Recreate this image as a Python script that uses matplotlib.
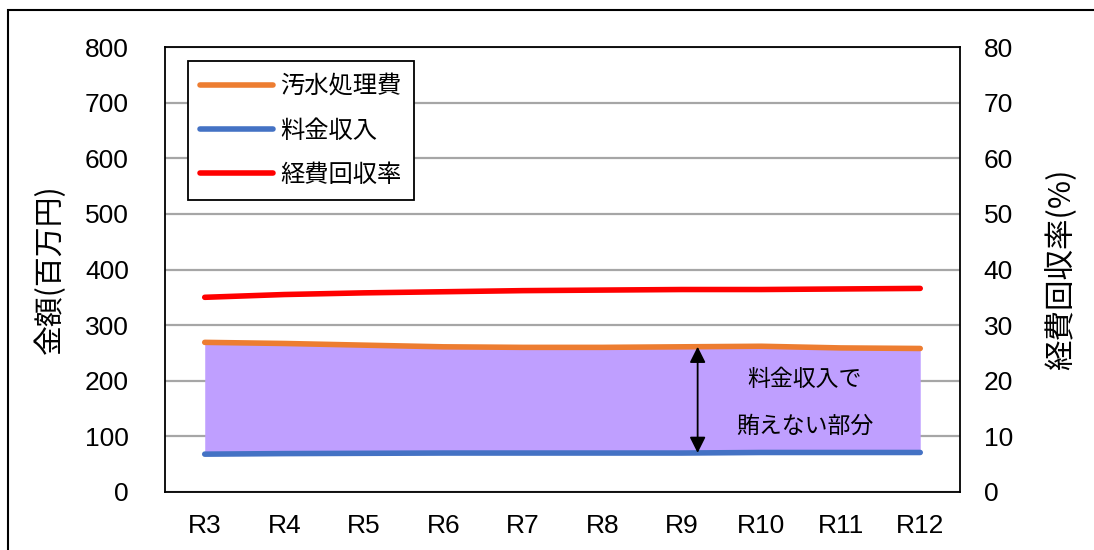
import matplotlib
matplotlib.use("Agg")
import matplotlib.pyplot as plt
from matplotlib.patches import Rectangle

plt.rcParams['font.family'] = ['Noto Sans CJK JP', 'DejaVu Sans']
NUM_FONT = ['Liberation Sans', 'DejaVu Sans']

years = ["R3", "R4", "R5", "R6", "R7", "R8", "R9", "R10", "R11", "R12"]
treatment_cost = [269, 267, 264, 261, 260, 260, 261, 262, 259, 258]   # 汚水処理費
fee_revenue = [68, 69, 69.5, 70, 70, 70, 70, 71, 71, 71]              # 料金収入
recovery_rate = [35.0, 35.5, 35.8, 36.0, 36.2, 36.3, 36.4, 36.4, 36.5, 36.6]  # 経費回収率

left_ticks = [0, 100, 200, 300, 400, 500, 600, 700, 800]
right_ticks = [0, 10, 20, 30, 40, 50, 60, 70, 80]

c_orange = "#ED7D31"
c_blue = "#4472C4"
c_red = "#FF0000"
c_fill = "#BF9FFF"

fig = plt.figure(figsize=(10.94, 5.50), dpi=100)
ax = fig.add_axes([0.1508, 0.1055, 0.7267, 0.809])
x = list(range(len(years)))

ax.fill_between(x, fee_revenue, treatment_cost, color=c_fill, zorder=2, linewidth=0)
l1, = ax.plot(x, treatment_cost, color=c_orange, lw=4, solid_capstyle="round", zorder=3, label="汚水処理費")
l2, = ax.plot(x, fee_revenue, color=c_blue, lw=4, solid_capstyle="round", zorder=3, label="料金収入")

ax.set_xlim(-0.5, len(years) - 0.5)
ax.set_ylim(0, 800)
ax.set_yticks(left_ticks)
ax.set_xticks(x)
ax.set_xticklabels(years)
ax.grid(axis="y", color="#A6A6A6", lw=1.6, zorder=0)
ax.set_axisbelow(True)
ax.tick_params(axis="y", length=0, pad=26, labelsize=19)
ax.tick_params(axis="x", length=0, pad=16, labelsize=19)
for lab in ax.get_xticklabels() + ax.get_yticklabels():
    lab.set_family(NUM_FONT)
for s in ax.spines.values():
    s.set_color("black")
    s.set_linewidth(1.3)
ax.set_ylabel("金額(百万円)", fontsize=21.5, labelpad=14)

ax2 = ax.twinx()
l3, = ax2.plot(x, recovery_rate, color=c_red, lw=4, solid_capstyle="round", zorder=3, label="経費回収率")
ax2.set_ylim(0, 80)
ax2.set_yticks(right_ticks)
ax2.tick_params(axis="y", length=0, pad=17, labelsize=19)
for lab in ax2.get_yticklabels():
    lab.set_family(NUM_FONT)
ax2.set_ylabel("経費回収率(%)", fontsize=22, rotation=90, labelpad=23)
for s in ax2.spines.values():
    s.set_visible(False)

# double-headed arrow marking the uncovered portion
arrow_x = 6.2
y_top = treatment_cost[6] + 0.2 * (treatment_cost[7] - treatment_cost[6])
y_bot = fee_revenue[6] + 0.2 * (fee_revenue[7] - fee_revenue[6])
ax.annotate("", xy=(arrow_x, y_top), xytext=(arrow_x, y_bot),
            arrowprops=dict(arrowstyle="<|-|>", color="black", lw=1.3,
                            mutation_scale=24, shrinkA=0, shrinkB=0), zorder=5)
ax.text(7.55, 202, "料金収入で", ha="center", va="center", fontsize=16.5, zorder=5)
ax.text(7.55, 118, "賄えない部分", ha="center", va="center", fontsize=16.5, zorder=5)

leg = ax2.legend(handles=[l1, l2, l3], loc="upper left",
                 bbox_to_anchor=(0.029, 0.968), fontsize=17.5, frameon=True,
                 fancybox=False, edgecolor="black", framealpha=1,
                 handlelength=3.0, handletextpad=0.3, labelspacing=0.75,
                 borderpad=0.5, borderaxespad=0)
leg.get_frame().set_linewidth(1.3)

fig.patches.append(Rectangle((8 / 1094, -0.05), 1.1, (550 - 10) / 550 + 0.05,
                             transform=fig.transFigure, fill=False,
                             edgecolor="black", lw=1.5))

fig.savefig("out.png", dpi=100)
